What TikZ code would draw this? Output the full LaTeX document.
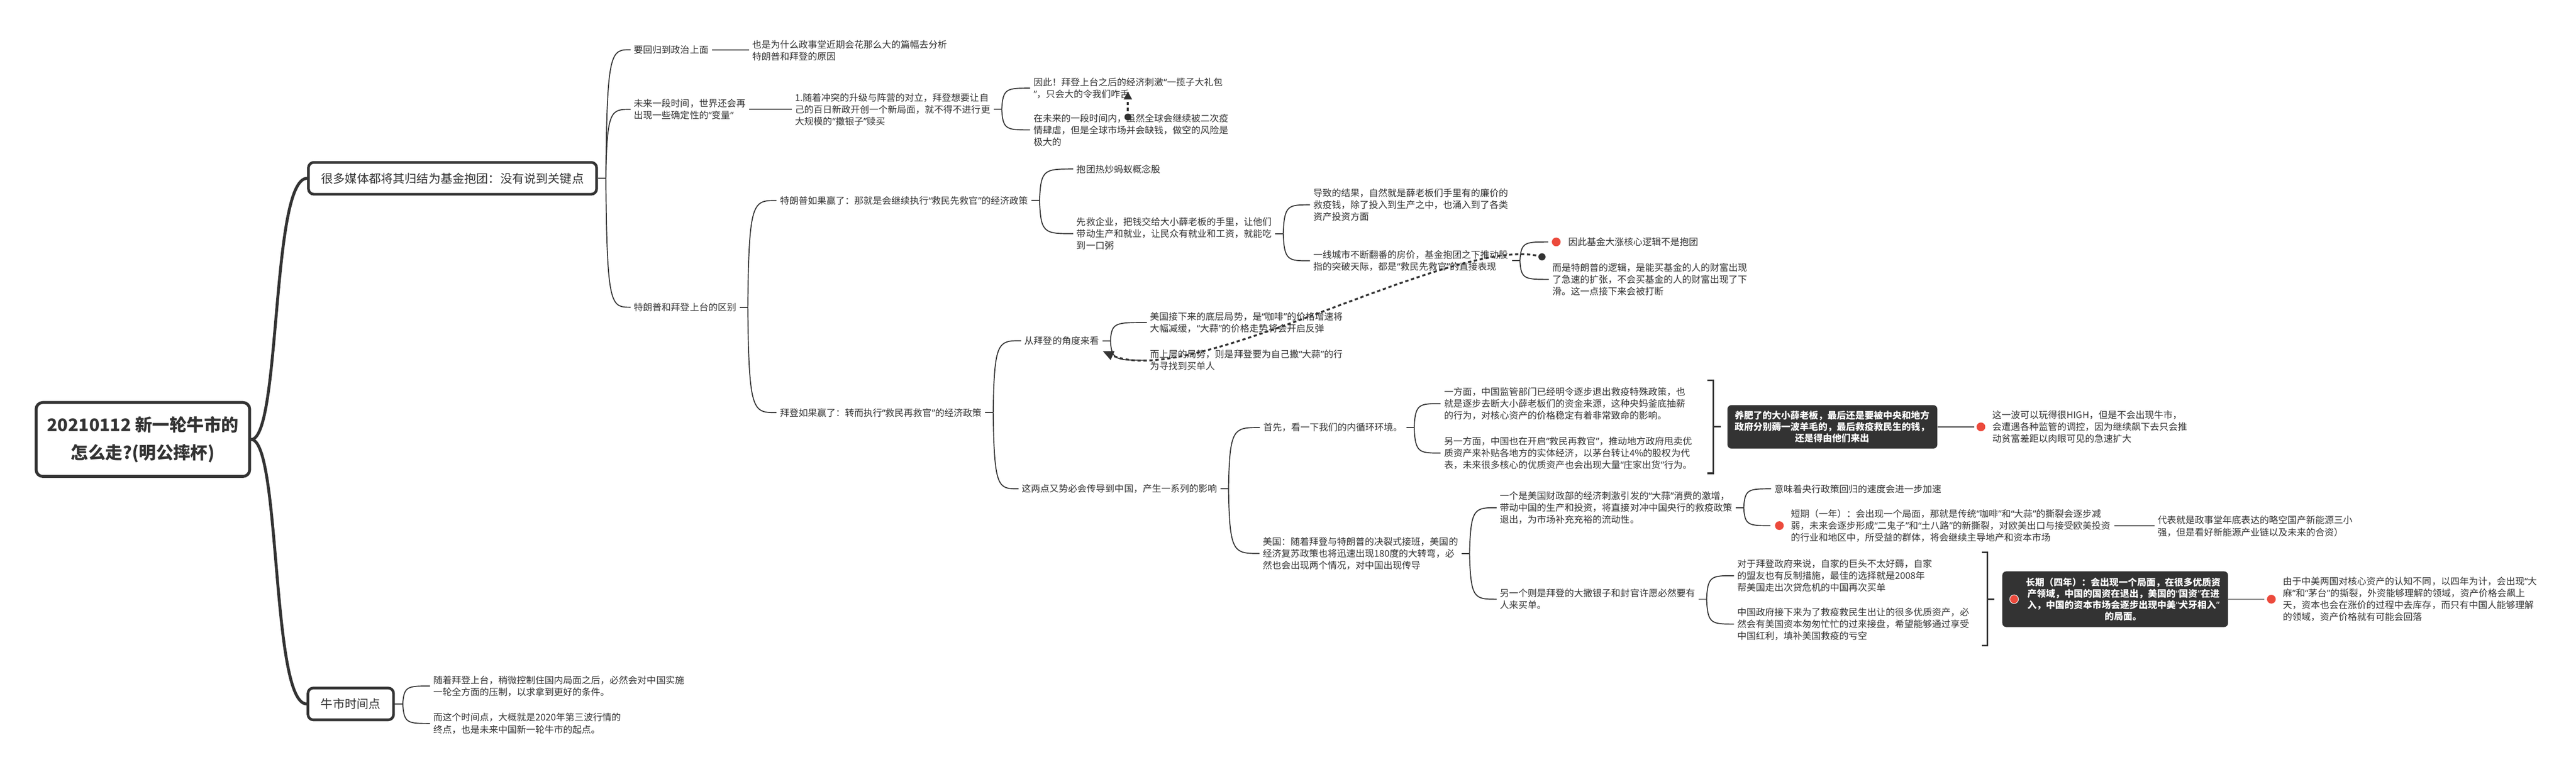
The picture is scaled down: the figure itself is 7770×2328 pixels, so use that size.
\documentclass[tikz,border=0pt]{standalone}
\usepackage{fontspec}
\setmainfont{Noto Sans CJK SC}
\newfontfamily\qfont{Noto Sans}
\newcommand\oq{{\qfont “}}
\newcommand\cq{{\qfont ”}}
\usetikzlibrary{calc,arrows.meta}
\definecolor{ink}{HTML}{333333}
\definecolor{dotred}{HTML}{EC4A3C}
\newcommand\stub[3][10]{\draw[ln] ($(#2.east)+(#1,0)$) -- ($(#2.east)+(#1+24,0)$) coordinate (#3);}
\newcommand\lnk[3][10]{\draw[ln] (#2) .. controls ($(#2|-#3.west)+(3,0)$) and ($(#2|-#3.west)+(15,0)$) .. ($(#3.west)+(-#1,0)$);}
\newcommand\sline[3][10]{\draw[ln] ($(#2.east)+(10,0)$) -- ($(#2.east-|#3.west)+(-#1,0)$);}
\newcommand\rdot[2][36]{\fill[dotred] ($(#2.west)+(-#1,0)$) circle (3.3pt);}
\begin{document}
\begin{tikzpicture}[x=0.25pt,y=-0.25pt,
  txt/.style={anchor=west,inner sep=0pt,align=left,text=ink,font=\fontsize{7pt}{9pt}\selectfont},
  ln/.style={draw=ink,line width=0.75pt},
  rootln/.style={draw=ink,line width=2.2pt},
  rootbox/.style={draw=ink,line width=2.2pt,rounded corners=5pt,fill=white,text=ink,align=center,
    font=\bfseries\fontsize{13pt}{21pt}\selectfont,minimum width=161pt,minimum height=55.75pt,inner sep=0pt},
  topic/.style={draw=ink,line width=2pt,rounded corners=4pt,fill=white,text=ink,
    font=\fontsize{9pt}{11pt}\selectfont,inner sep=0pt,minimum height=24pt},
  sumbox/.style={fill=ink,rounded corners=3pt,text=white,align=center,inner sep=0pt},
  sumtxt/.style={text=white,align=center,inner sep=0pt,font=\bfseries\fontsize{7pt}{8.6pt}\selectfont},
  brk/.style={draw=ink,line width=1.25pt},
  relln/.style={draw=ink,line width=1.4pt,dash pattern=on 2.5pt off 2pt},
]
\fill[white] (0,0) rectangle (7770,2328);
\useasboundingbox (0,0) rectangle (7770,2328);

% ---------- root and main topics
\node[rootbox] (root) at (431,1326) {20210112 新一轮牛市的\\怎么走?(明公摔杯)};
\node[topic,minimum width=217.25pt] (br1) at (1365,538) {很多媒体都将其归结为基金抱团：没有说到关键点};
\node[topic,minimum width=64.5pt] (br2) at (1058,2124) {牛市时间点};
\draw[rootln] (root.east) .. controls ($(root.east)+(90,0)$) and ($(root.east|-br1.west)+(60,0)$) .. (br1.west);
\draw[rootln] (root.east) .. controls ($(root.east)+(90,0)$) and ($(root.east|-br2.west)+(60,0)$) .. (br2.west);

% ---------- branch 1
\node[txt] (A1) at (1912,150) {要回归到政治上面};
\node[txt] (A1c) at (2269,152) {也是为什么政事堂近期会花那么大的篇幅去分析\\特朗普和拜登的原因};
\node[txt] (A2) at (1912,330) {未来一段时间，世界还会再\\出现一些确定性的\oq 变量\cq};
\node[txt] (A2c) at (2398,330) {1.随着冲突的升级与阵营的对立，拜登想要让自\\己的百日新政开创一个新局面，就不得不进行更\\大规模的\oq 撒银子\cq 赎买};
\node[txt] (A2a) at (3117,266) {因此！拜登上台之后的经济刺激\oq 一揽子大礼包\\\cq ，只会大的令我们咋舌};
\node[txt] (A2b) at (3117,392) {在未来的一段时间内，虽然全球会继续被二次疫\\情肆虐，但是全球市场并会缺钱，做空的风险是\\极大的};
\node[txt] (A3) at (1912,927) {特朗普和拜登上台的区别};

\node[txt] (B1) at (2352,605) {特朗普如果赢了：那就是会继续执行\oq 救民先救官\cq 的经济政策};
\node[txt] (B2) at (2352,1245) {拜登如果赢了：转而执行\oq 救民再救官\cq 的经济政策};

\node[txt] (C1) at (3247,510) {抱团热炒蚂蚁概念股};
\node[txt] (C2) at (3247,705) {先救企业，把钱交给大小薛老板的手里，让他们\\带动生产和就业，让民众有就业和工资，就能吃\\到一口粥};
\node[txt] (D1) at (3961,618) {导致的结果，自然就是薛老板们手里有的廉价的\\救疫钱，除了投入到生产之中，也涌入到了各类\\资产投资方面};
\node[txt] (D2) at (3961,787) {一线城市不断翻番的房价，基金抱团之下推动股\\指的突破天际，都是\oq 救民先救官\cq 的直接表现};
\node[txt] (E1) at (4730,730) {因此基金大涨核心逻辑不是抱团};
\node[txt] (E2) at (4682,843) {而是特朗普的逻辑，是能买基金的人的财富出现\\了急速的扩张，不会买基金的人的财富出现了下\\滑。这一点接下来会被打断};

\node[txt] (F1) at (3090,1028) {从拜登的角度来看};
\node[txt] (F1a) at (3469,973) {美国接下来的底层局势，是\oq 咖啡\cq 的价格增速将\\大幅减缓，\oq 大蒜\cq 的价格走势将会开启反弹};
\node[txt] (F1b) at (3469,1087) {而上层的局势，则是拜登要为自己撒\oq 大蒜\cq 的行\\为寻找到买单人};
\node[txt] (F2) at (3082,1475) {这两点又势必会传导到中国，产生一系列的影响};

\node[txt] (G1) at (3810,1290) {首先，看一下我们的内循环环境。};
\node[txt] (G1a) at (4355,1218) {一方面，中国监管部门已经明令逐步退出救疫特殊政策，也\\就是逐步去断大小薛老板们的资金来源，这种央妈釜底抽薪\\的行为，对核心资产的价格稳定有着非常致命的影响。};
\node[txt] (G1b) at (4355,1367) {另一方面，中国也在开启\oq 救民再救官\cq ，推动地方政府甩卖优\\质资产来补贴各地方的实体经济，以茅台转让4\%的股权为代\\表，未来很多核心的优质资产也会出现大量\oq 庄家出货\cq 行为。};

\node[txt] (G2) at (3809,1670) {美国：随着拜登与特朗普的决裂式接班，美国的\\经济复苏政策也将迅速出现180度的大转弯，必\\然也会出现两个情况，对中国出现传导};
\node[txt] (H1) at (4524,1532) {一个是美国财政部的经济刺激引发的\oq 大蒜\cq 消费的激增，\\带动中国的生产和投资，将直接对冲中国央行的救疫政策\\退出，为市场补充充裕的流动性。};
\node[txt] (H2) at (4524,1808) {另一个则是拜登的大撒银子和封官许愿必然要有\\人来买单。};
\node[txt] (I1) at (5352,1475) {意味着央行政策回归的速度会进一步加速};
\node[txt] (I2) at (5401,1586) {短期（一年）：会出现一个局面，那就是传统\oq 咖啡\cq 和\oq 大蒜\cq 的撕裂会逐步减\\弱，未来会逐步形成\oq 二鬼子\cq 和\oq 土八路\cq 的新撕裂，对欧美出口与接受欧美投资\\的行业和地区中，所受益的群体，将会继续主导地产和资本市场};
\node[txt] (I2a) at (6508,1588) {代表就是政事堂年底表达的略空国产新能源三小\\强，但是看好新能源产业链以及未来的合资）};
\node[txt] (J1) at (5240,1737) {对于拜登政府来说，自家的巨头不太好薅，自家\\的盟友也有反制措施，最佳的选择就是2008年\\帮美国走出次贷危机的中国再次买单};
\node[txt] (J2) at (5240,1883) {中国政府接下来为了救疫救民生出让的很多优质资产，必\\然会有美国资本匆匆忙忙的过来接盘，希望能够通过享受\\中国红利，填补美国救疫的亏空};

% ---------- summaries
\node[sumbox,minimum width=158.25pt,minimum height=32.75pt,font=\bfseries\fontsize{7pt}{8.5pt}\selectfont] (S1) at (5527,1288) {养肥了的大小薛老板，最后还是要被中央和地方\\政府分别薅一波羊毛的，最后救疫救民生的钱，\\还是得由他们来出};
\node[txt] (S1c) at (6009,1288) {这一波可以玩得很HIGH，但是不会出现牛市，\\会遭遇各种监管的调控，因为继续飙下去只会推\\动贫富差距以肉眼可见的急速扩大};
\node[sumbox,minimum width=170.25pt,minimum height=42pt] (S2) at (6380,1808) {};
\node[sumtxt] (S2t) at (6405,1808) {长期（四年）：会出现一个局面，在很多优质资\\产领域，中国的国资在退出，美国的\oq 国资\cq 在进\\入，中国的资本市场会逐步出现中美\oq 犬牙相入\cq \\的局面。};
\node[txt] (S2c) at (6886,1808) {由于中美两国对核心资产的认知不同，以四年为计，会出现\oq 大\\麻\cq 和\oq 茅台\cq 的撕裂，外资能够理解的领域，资产价格会飙上\\天，资本也会在涨价的过程中去库存，而只有中国人能够理解\\的领域，资产价格就有可能会回落};

% ---------- branch 2
\node[txt] (K1) at (1307,2070) {随着拜登上台，稍微控制住国内局面之后，必然会对中国实施\\一轮全方面的压制，以求拿到更好的条件。};
\node[txt] (K2) at (1307,2183) {而这个时间点，大概就是2020年第三波行情的\\终点，也是未来中国新一轮牛市的起点。};

% ---------- connectors
\stub[0]{br1}{j0} \lnk{j0}{A1} \lnk{j0}{A2} \lnk{j0}{A3}
\sline{A1}{A1c} \sline{A2}{A2c}
\stub{A2c}{j2} \lnk{j2}{A2a} \lnk{j2}{A2b}
\stub{A3}{j3} \lnk{j3}{B1} \lnk{j3}{B2}
\stub{B1}{j4} \lnk{j4}{C1} \lnk{j4}{C2}
\stub{C2}{j5} \lnk{j5}{D1} \lnk{j5}{D2}
\stub{D2}{j6} \lnk[60]{j6}{E1} \lnk{j6}{E2}
\stub{B2}{j7} \lnk{j7}{F1} \lnk{j7}{F2}
\stub{F1}{j8} \lnk{j8}{F1a} \lnk{j8}{F1b}
\stub{F2}{j9} \lnk{j9}{G1} \lnk{j9}{G2}
\stub{G1}{j10} \lnk{j10}{G1a} \lnk{j10}{G1b}
\stub{G2}{j11} \lnk{j11}{H1} \lnk{j11}{H2}
\stub{H1}{j12} \lnk{j12}{I1} \lnk[61]{j12}{I2}
\sline[10]{I2}{I2a}
\stub{H2}{j13} \lnk{j13}{J1} \lnk{j13}{J2}
\stub[0]{br2}{j14} \lnk{j14}{K1} \lnk{j14}{K2}

% summary brackets
\coordinate (b1t) at (5168,1147); \coordinate (b1b) at (5168,1428);
\draw[brk] ($(b1t)+(-18,0)$) -- (b1t) -- (b1b) -- ($(b1b)+(-18,0)$);
\draw[brk] ($(b1t)!0.5!(b1b)$) -- ++(22,0);
\coordinate (b2t) at (5994,1667); \coordinate (b2b) at (5994,1948);
\draw[brk] ($(b2t)+(-16,0)$) -- (b2t) -- (b2b) -- ($(b2b)+(-16,0)$);
\draw[brk] ($(b2t)!0.5!(b2b)$) -- ++(22,0);
\draw[ln] (S1.east) -- ($(S1c.west)+(-54,0)$);
\draw[ln] (S2.east) -- ($(S2c.west)+(-56,0)$);

% red markers
\rdot{E1} \rdot[34]{I2} \rdot[34]{S1c} \rdot[35]{S2c}
\filldraw[fill=dotred,draw=white,line width=0.4pt] (6075,1808) circle (3.3pt);

% relationship lines
\coordinate (r1s) at ($(A2b.west)+(285,-39)$);
\coordinate (r1e) at ($(A2a.west)+(285,10)$);
\draw[relln,-{Triangle[length=6pt,width=6pt]}] (r1s) -- (r1e);
\fill[ink] (r1s) circle (2.6pt);
\coordinate (r2s) at ($(E2.west)+(-31,-68)$);
\coordinate (r2e) at ($(F1.east)+(11,32)$);
\draw[relln,-{Triangle[length=8pt,width=7pt]}] (r2s) .. controls (4400,700) and (3600,1180) .. (r2e);
\fill[ink] (r2s) circle (2.7pt);
\end{tikzpicture}
\end{document}
